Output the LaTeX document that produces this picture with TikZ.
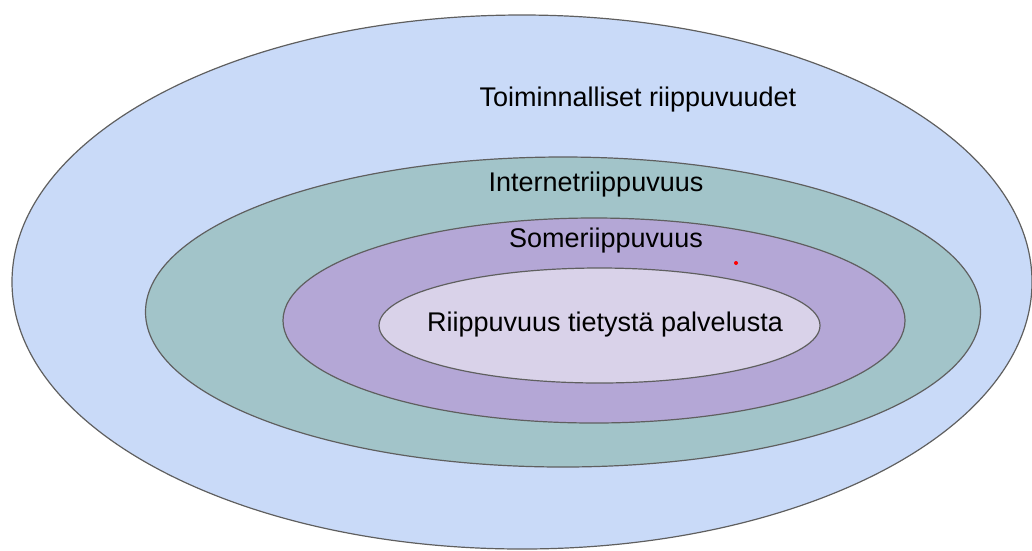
\documentclass[tikz,border=0pt]{standalone}
\usepackage{fontspec}
\setmainfont{Liberation Sans}
\usetikzlibrary{positioning, shapes.geometric}

\definecolor{outerblue}{HTML}{C9DAF8}
\definecolor{netgreen}{HTML}{A2C4C9}
\definecolor{somepurple}{HTML}{B4A7D6}
\definecolor{servicelilac}{HTML}{D9D2E9}
\definecolor{ringline}{HTML}{5F5F5F}

\begin{document}
\begin{tikzpicture}[
x=1pt, y=-1pt,
ring/.style={ellipse, draw=ringline, line width=1.2pt, inner sep=0pt},
lbl/.style={font=\fontsize{27}{31}\selectfont, inner sep=0pt}
]
\useasboundingbox (0,0) rectangle (1032,550);

\node[ring, fill=outerblue, minimum width=1020pt, minimum height=534pt] (functional) at (522,282) {};
\node[ring, fill=netgreen, minimum width=835pt, minimum height=310pt] (internet) at (563,312) {};
\node[ring, fill=somepurple, minimum width=622pt, minimum height=205pt] (some) at (594,320.5) {};
\node[ring, fill=servicelilac, minimum width=441pt, minimum height=115pt] (service) at (599.5,325.5) {};

\node[lbl] (functionallbl) at (638,100) {Toiminnalliset riippuvuudet};
\node[lbl] (internetlbl) at (596,185) {Internetriippuvuus};
\node[lbl] (somelbl) at (606,241) {Someriippuvuus};
\node[lbl] (servicelbl) at (605,325) {Riippuvuus tietystä palvelusta};

\node[circle, fill=red, inner sep=0pt, minimum size=4pt] (dot) at (736,263) {};

\end{tikzpicture}
\end{document}
